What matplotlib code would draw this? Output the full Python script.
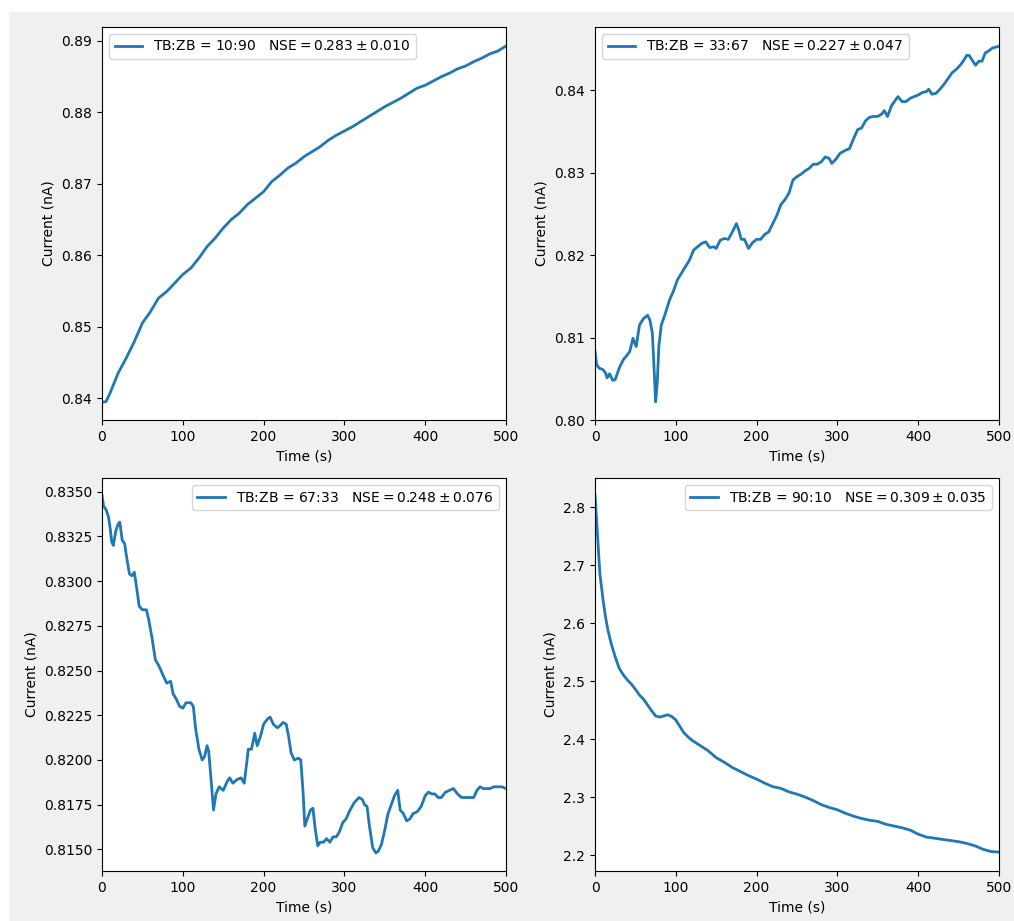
import numpy as np
import matplotlib
matplotlib.use("Agg")
import matplotlib.pyplot as plt
from matplotlib.patches import Rectangle

# TB:ZB = 10:90
t_a = [0, 5, 10, 20, 30, 40, 50, 60, 70, 80, 90, 100, 110, 120, 130, 140, 150, 160, 170, 180,
       190, 200, 210, 220, 230, 240, 250, 260, 270, 280, 290, 300, 310, 320, 330, 340, 350, 360,
       370, 380, 390, 400, 410, 420, 430, 440, 450, 460, 470, 480, 490, 500]
i_a = [0.8394, 0.8395, 0.8407, 0.8435, 0.8456, 0.8479, 0.8505, 0.8521, 0.8540, 0.8549, 0.8561,
       0.8573, 0.8582, 0.8596, 0.8612, 0.8624, 0.8638, 0.8650, 0.8659, 0.8671, 0.8680, 0.8689,
       0.8703, 0.8712, 0.8722, 0.8729, 0.8738, 0.8745, 0.8752, 0.8761, 0.8768, 0.8774, 0.8780,
       0.8787, 0.8794, 0.8801, 0.8808, 0.8814, 0.8820, 0.8827, 0.8834, 0.8838, 0.8844, 0.8850,
       0.8855, 0.8861, 0.8865, 0.8871, 0.8876, 0.8882, 0.8886, 0.8893]

# TB:ZB = 33:67
t_b = [0, 2, 5, 10, 13, 15, 18, 22, 25, 30, 35, 40, 43, 47, 51, 55, 60, 65, 68, 71, 73, 75, 77,
       79, 82, 87, 92, 97, 102, 107, 112, 117, 122, 127, 132, 137, 142, 147, 150, 155, 160, 165,
       170, 175, 178, 181, 185, 190, 195, 200, 205, 210, 215, 220, 225, 230, 235, 240, 245, 250,
       255, 260, 265, 270, 275, 280, 285, 290, 293, 298, 303, 310, 315, 320, 325, 330, 335, 340,
       345, 350, 355, 358, 362, 367, 372, 375, 380, 385, 390, 395, 400, 405, 410, 413, 417, 422,
       427, 432, 437, 442, 447, 452, 457, 460, 463, 467, 471, 475, 479, 483, 488, 492, 496, 500]
i_b = [0.8083, 0.8067, 0.8063, 0.8061, 0.8057, 0.8051, 0.8056, 0.8048, 0.8049, 0.8063, 0.8073,
       0.8079, 0.8083, 0.8099, 0.8089, 0.8115, 0.8123, 0.8127, 0.8121, 0.8105, 0.8065, 0.8022,
       0.8044, 0.8089, 0.8115, 0.8129, 0.8145, 0.8156, 0.8170, 0.8178, 0.8186, 0.8194, 0.8206,
       0.8210, 0.8214, 0.8216, 0.8209, 0.8210, 0.8208, 0.8218, 0.8220, 0.8219, 0.8228, 0.8238,
       0.8230, 0.8219, 0.8219, 0.8208, 0.8215, 0.8219, 0.8219, 0.8225, 0.8228, 0.8238, 0.8248,
       0.8261, 0.8267, 0.8275, 0.8291, 0.8295, 0.8298, 0.8302, 0.8305, 0.8310, 0.8310, 0.8313,
       0.8319, 0.8317, 0.8311, 0.8316, 0.8323, 0.8327, 0.8329, 0.8341, 0.8352, 0.8354, 0.8363,
       0.8367, 0.8368, 0.8368, 0.8371, 0.8375, 0.8368, 0.8381, 0.8388, 0.8392, 0.8386, 0.8386,
       0.8390, 0.8392, 0.8394, 0.8397, 0.8398, 0.8401, 0.8395, 0.8396, 0.8401, 0.8407, 0.8414,
       0.8421, 0.8425, 0.8430, 0.8437, 0.8442, 0.8442, 0.8436, 0.8430, 0.8435, 0.8435, 0.8445,
       0.8448, 0.8451, 0.8452, 0.8453]

# TB:ZB = 67:33
t_c = [0, 2, 5, 8, 10, 12, 14, 17, 20, 22, 25, 28, 31, 34, 37, 40, 43, 46, 50, 55, 58, 62, 66,
       70, 75, 80, 85, 88, 92, 96, 100, 104, 110, 113, 116, 120, 124, 127, 130, 132, 135, 138,
       141, 145, 150, 155, 158, 162, 167, 172, 176, 179, 181, 185, 189, 192, 196, 200, 205, 208,
       212, 217, 220, 224, 228, 231, 234, 238, 243, 246, 249, 251, 254, 258, 261, 264, 267, 270,
       274, 278, 282, 286, 290, 294, 298, 302, 307, 312, 318, 322, 325, 328, 331, 335, 339, 342,
       346, 350, 354, 358, 362, 366, 369, 373, 377, 381, 385, 390, 395, 400, 404, 408, 412, 416,
       420, 425, 430, 435, 440, 445, 450, 455, 460, 464, 468, 472, 476, 480, 485, 490, 495, 500]
i_c = [0.8348, 0.8342, 0.8340, 0.8336, 0.8330, 0.8322, 0.8320, 0.8328, 0.8332, 0.8333, 0.8323,
       0.8321, 0.8312, 0.8304, 0.8303, 0.8305, 0.8296, 0.8286, 0.8284, 0.8284, 0.8278, 0.8268,
       0.8256, 0.8253, 0.8248, 0.8243, 0.8244, 0.8237, 0.8234, 0.8230, 0.8229, 0.8232, 0.8232,
       0.8230, 0.8217, 0.8206, 0.8200, 0.8202, 0.8208, 0.8205, 0.8189, 0.8172, 0.8181, 0.8185,
       0.8183, 0.8188, 0.8190, 0.8187, 0.8189, 0.8190, 0.8187, 0.8198, 0.8206, 0.8206, 0.8215,
       0.8208, 0.8213, 0.8220, 0.8223, 0.8224, 0.8220, 0.8218, 0.8219, 0.8221, 0.8220, 0.8213,
       0.8204, 0.8200, 0.8201, 0.8200, 0.8181, 0.8163, 0.8167, 0.8172, 0.8173, 0.8161, 0.8152,
       0.8154, 0.8154, 0.8156, 0.8154, 0.8157, 0.8157, 0.8160, 0.8165, 0.8167, 0.8172, 0.8176,
       0.8179, 0.8178, 0.8175, 0.8174, 0.8163, 0.8151, 0.8148, 0.8149, 0.8153, 0.8161, 0.8170,
       0.8175, 0.8180, 0.8183, 0.8172, 0.8170, 0.8166, 0.8167, 0.8170, 0.8171, 0.8174, 0.8180,
       0.8182, 0.8181, 0.8181, 0.8179, 0.8179, 0.8182, 0.8183, 0.8184, 0.8181, 0.8179, 0.8179,
       0.8179, 0.8179, 0.8183, 0.8185, 0.8184, 0.8184, 0.8184, 0.8185, 0.8185, 0.8185, 0.8184]

# TB:ZB = 90:10
t_d = [0, 2, 4, 6, 8, 10, 13, 16, 20, 25, 30, 35, 40, 45, 50, 55, 60, 65, 70, 75, 80, 85, 90,
       95, 100, 105, 110, 115, 120, 130, 140, 150, 160, 170, 180, 190, 200, 210, 220, 230, 240,
       250, 260, 270, 280, 290, 300, 310, 320, 330, 340, 350, 360, 370, 380, 390, 400, 410, 420,
       430, 440, 450, 460, 470, 480, 490, 500]
i_d = [2.821, 2.778, 2.732, 2.686, 2.663, 2.640, 2.611, 2.588, 2.565, 2.542, 2.522, 2.511, 2.502,
       2.495, 2.486, 2.476, 2.469, 2.459, 2.449, 2.440, 2.438, 2.440, 2.442, 2.439, 2.433, 2.422,
       2.411, 2.404, 2.398, 2.389, 2.380, 2.368, 2.360, 2.351, 2.344, 2.337, 2.331, 2.324, 2.318,
       2.315, 2.309, 2.305, 2.300, 2.294, 2.287, 2.282, 2.278, 2.272, 2.267, 2.263, 2.260, 2.258,
       2.253, 2.250, 2.247, 2.243, 2.236, 2.231, 2.229, 2.227, 2.225, 2.223, 2.220, 2.216, 2.210,
       2.206, 2.205]

labels = ["TB:ZB = 10:90   $\\mathrm{NSE} = 0.283 \\pm 0.010$",
          "TB:ZB = 33:67   $\\mathrm{NSE} = 0.227 \\pm 0.047$",
          "TB:ZB = 67:33   $\\mathrm{NSE} = 0.248 \\pm 0.076$",
          "TB:ZB = 90:10   $\\mathrm{NSE} = 0.309 \\pm 0.035$"]

fig = plt.figure(figsize=(10.14, 9.21), dpi=100, facecolor="white")
fig.add_artist(Rectangle((9 / 1014, 0), 1, 1 - 12 / 921, transform=fig.transFigure,
                         facecolor="#eef1f0", edgecolor="none", zorder=-10))

W, H = 1014, 921
boxes = [(102, 27), (595, 27), (102, 478), (595, 478)]
series = [(t_a, i_a), (t_b, i_b), (t_c, i_c), (t_d, i_d)]
ylims = [(0.83692, 0.89196), (0.80, 0.84764), (0.81379, 0.83577), (2.1724, 2.8506)]
locs = ["upper left", "upper left", "upper right", "upper right"]

for k in range(4):
    x0, y0 = boxes[k]
    ax = fig.add_axes([x0 / W, 1 - (y0 + 393) / H, 404 / W, 393 / H])
    t, cur = series[k]
    ax.plot(t, cur, color="#1f77b4", lw=2, label=labels[k])
    ax.set_xlim(0, 500)
    ax.set_ylim(*ylims[k])
    if k == 2:
        ax.set_yticks([0.815, 0.8175, 0.82, 0.8225, 0.825, 0.8275, 0.83, 0.8325, 0.835])
        ax.yaxis.set_major_formatter(matplotlib.ticker.FormatStrFormatter("%.4f"))
    ax.set_xlabel("Time (s)")
    ax.set_ylabel("Current (nA)")
    ax.legend(loc=locs[k])

fig.savefig("out.png", dpi=100, facecolor=fig.get_facecolor())
